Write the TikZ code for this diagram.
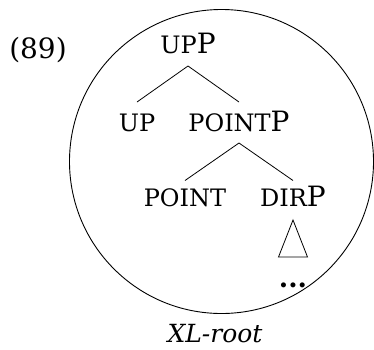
\documentclass[tikz,border=0pt]{standalone}
\usepackage{fontspec}
\setmainfont{DejaVu Serif}
\newcommand{\smc}[1]{{\fontsize{24}{28}\selectfont #1}}
\begin{document}
\begin{tikzpicture}[x=1pt,y=-1pt,
  lbl/.style={anchor=base,inner sep=0pt,font=\fontsize{28}{32}\selectfont},
  side/.style={anchor=base,inner sep=0pt,font=\fontsize{28}{32}\selectfont},
  branch/.style={line width=0.8pt},
  ring/.style={line width=0.9pt}]
\useasboundingbox (0,0) rectangle (374,349);
\node[side] (num) at (38,58) {(89)};
\coordinate (c) at (221.5,161.5);
\draw[ring] (c) circle[radius=152pt];
\node[lbl] (upp) at (188,53) {\smc{UP}P};
\node[lbl] (up) at (137,131) {\smc{UP}};
\node[lbl] (pointp) at (239,131) {\smc{POINT}P};
\node[lbl] (point) at (185,206) {\smc{POINT}};
\node[lbl] (dirp) at (293,206) {\smc{DIR}P};
\node[lbl,font=\fontsize{27}{30}\selectfont\bfseries] (dots) at (293,287) {...};
\node[side,font=\fontsize{25}{28}\selectfont\itshape] (xl) at (215,342) {XL-root};
\draw[branch] ([yshift=-13pt]upp.base) -- ([yshift=29pt]up.base);
\draw[branch] ([yshift=-13pt]upp.base) -- ([yshift=29pt]pointp.base);
\draw[branch] ([yshift=-12pt]pointp.base) -- ([yshift=25.5pt]point.base);
\draw[branch] ([yshift=-12pt]pointp.base) -- ([yshift=25.5pt]dirp.base);
\draw[branch,line join=miter] ([yshift=-14pt]dirp.base) -- ([xshift=-14.5pt,yshift=-51pt]dirp.base) -- ([xshift=14.5pt,yshift=-51pt]dirp.base) -- cycle;
\end{tikzpicture}
\end{document}
